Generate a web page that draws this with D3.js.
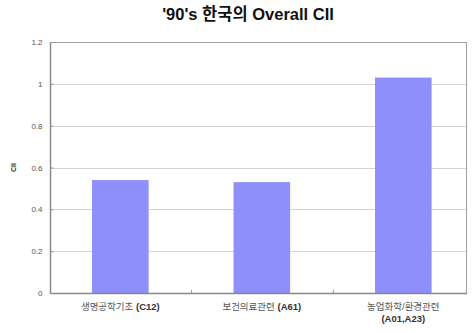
<!DOCTYPE html>
<html>
<head>
<meta charset="utf-8">
<script src="https://cdn.jsdelivr.net/npm/d3@7"></script>
<style>
  html, body { margin: 0; padding: 0; background: #fff; }
  svg { display: block; }
</style>
</head>
<body>
<svg id="chart" width="472" height="333"></svg>
<script>
// Overall CII by technology field
const categories = ["생명공학기초 (C12)", "보건의료관련 (A61)", "농업화학/환경관련 (A01,A23)"];
const labelNames = ["생명공학기초", "보건의료관련", "농업화학/환경관련"];
const labelCodes = ["(C12)", "(A61)", "(A01,A23)"];
const codeOnNewLine = [false, false, true];
const values = [0.54, 0.53, 1.03];
const yTicks = [0, 0.2, 0.4, 0.6, 0.8, 1, 1.2];
const titleText = "'90's 한국의 Overall CII";
const yAxisTitle = "CII";

const plot = { left: 50, right: 466, top: 42, bottom: 293 };
const font = "'Liberation Sans', 'Noto Sans CJK KR', Arial, sans-serif";

const svg = d3.select("#chart");

const x = d3.scaleBand()
  .domain(categories)
  .range([plot.left, plot.right])
  .paddingInner(0.6)
  .paddingOuter(0.27)
  .align(0.55);

const y = d3.scaleLinear()
  .domain([0, 1.2])
  .range([plot.bottom, plot.top]);

// gridlines
svg.append("g")
  .selectAll("line")
  .data(yTicks.filter(d => d > 0 && d < 1.2))
  .join("line")
  .attr("x1", plot.left).attr("x2", plot.right)
  .attr("y1", d => Math.round(y(d)) + 0.5).attr("y2", d => Math.round(y(d)) + 0.5)
  .attr("stroke", "#d4d4d4").attr("stroke-width", 1);

// bars
svg.append("g")
  .selectAll("rect")
  .data(values)
  .join("rect")
  .attr("x", (d, i) => x(categories[i]))
  .attr("width", x.bandwidth())
  .attr("y", d => y(d))
  .attr("height", d => y(0) - y(d))
  .attr("fill", "#8f8ffb");

// plot frame
svg.append("rect")
  .attr("x", plot.left + 0.5).attr("y", plot.top + 0.5)
  .attr("width", plot.right - plot.left).attr("height", plot.bottom - plot.top)
  .attr("fill", "none").attr("stroke", "#a0a0a0").attr("stroke-width", 1);
svg.append("line")
  .attr("x1", plot.left + 0.5).attr("x2", plot.left + 0.5)
  .attr("y1", plot.top).attr("y2", plot.bottom + 1)
  .attr("stroke", "#888").attr("stroke-width", 1.5);
svg.append("line")
  .attr("x1", plot.left).attr("x2", plot.right + 1)
  .attr("y1", plot.bottom + 0.5).attr("y2", plot.bottom + 0.5)
  .attr("stroke", "#888").attr("stroke-width", 1.5);

// y axis
const yAxis = d3.axisLeft(y)
  .tickValues(yTicks)
  .tickSize(-3)
  .tickPadding(8)
  .tickFormat(d3.format("~g"));
const gy = svg.append("g")
  .attr("transform", `translate(${plot.left + 0.5},0)`)
  .call(yAxis);
gy.select(".domain").remove();
gy.selectAll(".tick line").attr("stroke", "#999");
gy.selectAll(".tick text")
  .attr("fill", "#555")
  .style("font-family", font)
  .style("font-size", "8px");

// category boundary ticks
const step = x.step();
svg.append("g")
  .selectAll("line")
  .data(categories.slice(1))
  .join("line")
  .attr("x1", d => Math.round(x(d) - (step - x.bandwidth()) / 2) + 0.5)
  .attr("x2", d => Math.round(x(d) - (step - x.bandwidth()) / 2) + 0.5)
  .attr("y1", plot.bottom - 3).attr("y2", plot.bottom)
  .attr("stroke", "#999");

// category labels: field name, then code in bold
svg.append("g")
  .selectAll("text")
  .data(categories)
  .join("text")
  .attr("x", d => x(d) + x.bandwidth() / 2)
  .attr("y", 310)
  .attr("text-anchor", "middle")
  .attr("fill", "#555")
  .style("font-family", font)
  .style("font-size", "9.5px")
  .each(function(d, i) {
    const t = d3.select(this);
    const cx = x(d) + x.bandwidth() / 2;
    t.append("tspan").text(labelNames[i]);
    const code = t.append("tspan").style("font-weight", "bold").attr("fill", "#333");
    if (codeOnNewLine[i]) {
      code.attr("x", cx).attr("dy", "1.3em").text(labelCodes[i]);
    } else {
      code.text(" " + labelCodes[i]);
    }
  });

// y axis title
svg.append("text")
  .attr("transform", `translate(16,${(plot.top + plot.bottom) / 2}) rotate(-90)`)
  .attr("text-anchor", "middle")
  .attr("fill", "#333")
  .style("font-family", font)
  .style("font-weight", "bold")
  .style("font-size", "7px")
  .text(yAxisTitle);

// title
svg.append("text")
  .attr("x", 248)
  .attr("y", 20)
  .attr("text-anchor", "middle")
  .attr("fill", "#111")
  .style("font-family", font)
  .style("font-weight", "bold")
  .style("font-size", "16.5px")
  .text(titleText);
</script>
</body>
</html>
